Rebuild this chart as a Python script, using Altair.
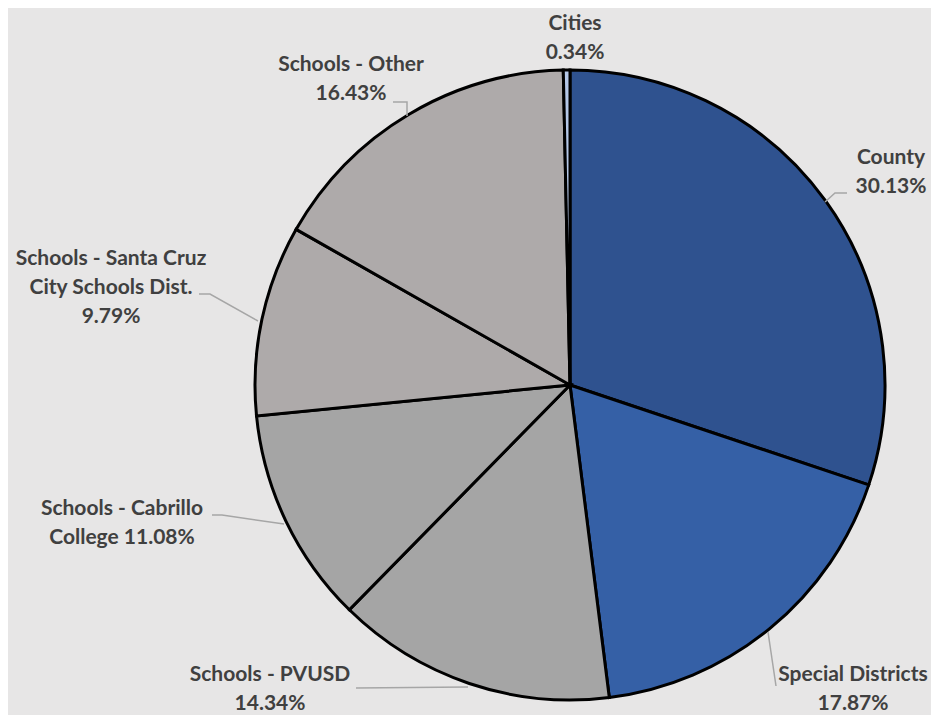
import altair as alt
import pandas as pd

# ---- data ----
categories = ["County", "Special Districts", "Schools - PVUSD", "Schools - Cabrillo College",
              "Schools - Santa Cruz City Schools Dist.", "Schools - Other", "Cities"]
shares = [30.13, 17.87, 14.34, 11.08, 9.79, 16.43, 0.34]
label_text = ["County\n30.13%", "Special Districts\n17.87%", "Schools - PVUSD\n14.34%",
              "Schools - Cabrillo\nCollege 11.08%",
              "Schools - Santa Cruz\nCity Schools Dist.\n9.79%",
              "Schools - Other\n16.43%", "Cities\n0.34%"]

# ---- styles / layout ----
colors = ["#2f528f", "#3560a6", "#a5a5a5", "#a5a5a5", "#aeaaaa", "#aeaaaa", "#b4c7e7"]
BG = "#e7e6e6"
W, H = 923, 707
CX, CY, R = 562, 377, 315
OFF = 8  # page margin
label_pos = {  # page coords: centre x, first-line middle y
    "County": (891, 158),
    "Special Districts": (853, 675),
    "Schools - PVUSD": (270, 675),
    "Schools - Cabrillo College": (122, 509),
    "Schools - Santa Cruz City Schools Dist.": (111, 259),
    "Schools - Other": (351, 65),
    "Cities": (575, 24),
}
leaders = {
    "County": [(825, 202), (835, 193), (847, 193)],
    "Special Districts": [(768, 632), (776, 686)],
    "Schools - PVUSD": [(356, 688), (468, 687)],
    "Schools - Cabrillo College": [(212, 515), (222, 515), (284, 524)],
    "Schools - Santa Cruz City Schools Dist.": [(199, 294), (210, 294), (258, 321)],
    "Schools - Other": [(393, 102), (407, 102), (407, 116)],
}

df = pd.DataFrame({"category": categories, "share": shares, "idx": list(range(len(categories)))})

pie = alt.Chart(df).mark_arc(stroke="black", strokeWidth=3, radius=R).encode(
    theta=alt.Theta("share:Q", stack=True),
    order=alt.Order("idx:Q"),
    color=alt.Color("category:N", scale=alt.Scale(domain=categories, range=colors), legend=None),
    x=alt.value(CX), y=alt.value(CY),
)

lab_df = pd.DataFrame({
    "category": categories,
    "text": label_text,
    "lx": [label_pos[c][0] - OFF for c in categories],
    "ly": [label_pos[c][1] - OFF for c in categories],
})
labels = alt.Chart(lab_df).mark_text(
    font="Lato", fontWeight="bold", fontSize=21, color="#404040",
    align="center", baseline="middle", lineBreak="\n", lineHeight=29,
).encode(
    x=alt.X("lx:Q", scale=None), y=alt.Y("ly:Q", scale=None), text="text:N"
)

rows = []
for c, pts in leaders.items():
    for i, (px, py) in enumerate(pts):
        rows.append({"category": c, "i": i, "px": px - OFF, "py": py - OFF})
lead_df = pd.DataFrame(rows)
lines = alt.Chart(lead_df).mark_line(color="#a6a6a6", strokeWidth=1.5).encode(
    x=alt.X("px:Q", scale=None), y=alt.Y("py:Q", scale=None),
    detail="category:N", order="i:Q",
)

chart = alt.layer(pie, lines, labels).properties(
    width=W, height=H, autosize=alt.AutoSizeParams(type="none"), padding=0,
    background=BG,
).configure_view(stroke=None, fill=BG)

chart.save("out.html", embed_options={"renderer": "svg", "actions": False})
